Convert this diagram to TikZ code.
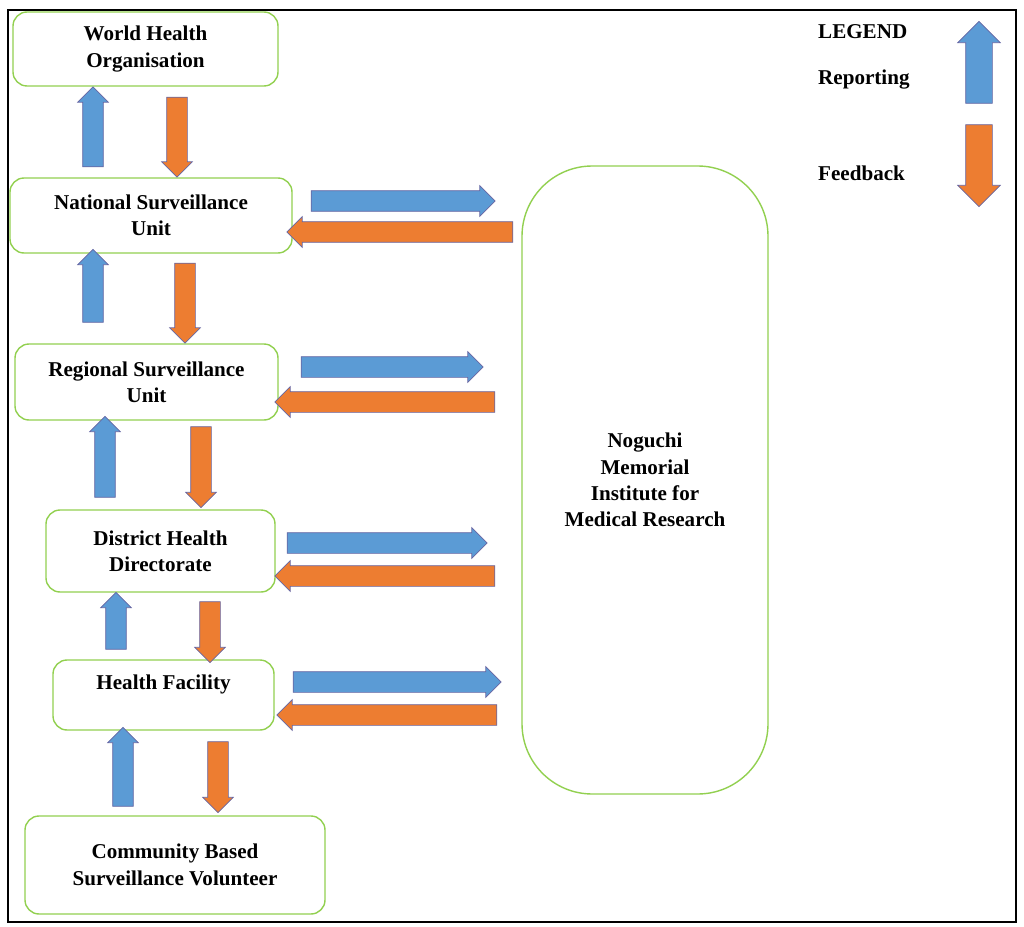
\documentclass[tikz,border=0pt]{standalone}
\usepackage{fontspec}
\setmainfont{Liberation Serif}
\usetikzlibrary{shapes.arrows}
\definecolor{boxgreen}{RGB}{146,208,80}
\definecolor{repblue}{RGB}{91,155,213}
\definecolor{fborange}{RGB}{237,125,49}
\tikzset{
    unit/.style = {
        draw=boxgreen, rounded corners=8pt, thick,
        font=\bfseries\fontsize{12}{15}\selectfont, align=center,
        },
    report/.style = {
        single arrow, draw=blue!40!black!60, fill=repblue, thin,
        single arrow head extend=0.1cm, inner xsep=0pt, inner ysep=0.2cm,
        },
    feedback/.style = {
        single arrow, draw=blue!40!black!60, fill=fborange, thin,
        single arrow head extend=0.1cm, inner xsep=0pt, inner ysep=0.2cm,
        },
}
\newcommand{\fatarrow}[5]{% style, x, y, length, angle
    \node[#1, minimum height=#4*0.02cm, rotate=#5] at (#2,#3) {};}
\begin{document}
\begin{tikzpicture}[x=0.02cm, y=-0.02cm]
    \useasboundingbox (0,0) rectangle (1024,926);
    \draw[thick] (8,10) rectangle (1016,922);

    % units
    \node[unit, minimum width=265*0.02cm, minimum height=74*0.02cm] (who) at (145.5,49) {World Health\\Organisation};
    \node[unit, minimum width=282*0.02cm, minimum height=75*0.02cm] (nsu) at (151,215.5) {National Surveillance\\Unit};
    \node[unit, minimum width=263*0.02cm, minimum height=76*0.02cm] (rsu) at (146.5,382) {Regional Surveillance\\Unit};
    \node[unit, minimum width=229*0.02cm, minimum height=82*0.02cm] (dhd) at (160.5,551) {District Health\\Directorate};
    \node[unit, minimum width=221*0.02cm, minimum height=70*0.02cm, text depth=26*0.02cm] (hf) at (163.5,695) {Health Facility};
    \node[unit, minimum width=300*0.02cm, minimum height=98*0.02cm] (cbs) at (175,865) {Community Based\\Surveillance Volunteer};
    \node[unit, rounded corners=40pt, minimum width=246*0.02cm, minimum height=628*0.02cm] (nmi) at (645,480) {Noguchi\\Memorial\\Institute for\\Medical Research};

    % vertical flows
    \fatarrow{report}{93}{132}{80}{90}
    \fatarrow{feedback}{177}{132}{80}{-90}
    \fatarrow{report}{93}{291}{73}{90}
    \fatarrow{feedback}{185}{298}{80}{-90}
    \fatarrow{report}{105}{462}{81}{90}
    \fatarrow{feedback}{201}{462}{81}{-90}
    \fatarrow{report}{116}{626}{57}{90}
    \fatarrow{feedback}{210}{627}{61}{-90}
    \fatarrow{report}{123}{772}{79}{90}
    \fatarrow{feedback}{218}{772}{71}{-90}

    % horizontal flows
    \fatarrow{report}{398}{201}{184}{0}
    \fatarrow{feedback}{405}{232}{226}{180}
    \fatarrow{report}{387}{367}{182}{0}
    \fatarrow{feedback}{390}{402}{220}{180}
    \fatarrow{report}{382}{543}{200}{0}
    \fatarrow{feedback}{390}{576}{220}{180}
    \fatarrow{report}{392}{682}{208}{0}
    \fatarrow{feedback}{392}{715}{220}{180}

    % legend
    \node[font=\bfseries\fontsize{12}{15}\selectfont, anchor=west] (leg) at (812,32) {LEGEND};
    \node[font=\bfseries\fontsize{12}{15}\selectfont, anchor=west] (rep) at (812,80) {Reporting};
    \node[font=\bfseries\fontsize{12}{15}\selectfont, anchor=west] (fb) at (812,173) {Feedback};
    \node[report, minimum height=82*0.02cm, inner ysep=0.26cm, single arrow head extend=0.16cm, rotate=90] (lrep) at (979,69) {};
    \node[feedback, minimum height=82*0.02cm, inner ysep=0.26cm, single arrow head extend=0.16cm, rotate=-90] (lfb) at (979,159) {};
\end{tikzpicture}
\end{document}
